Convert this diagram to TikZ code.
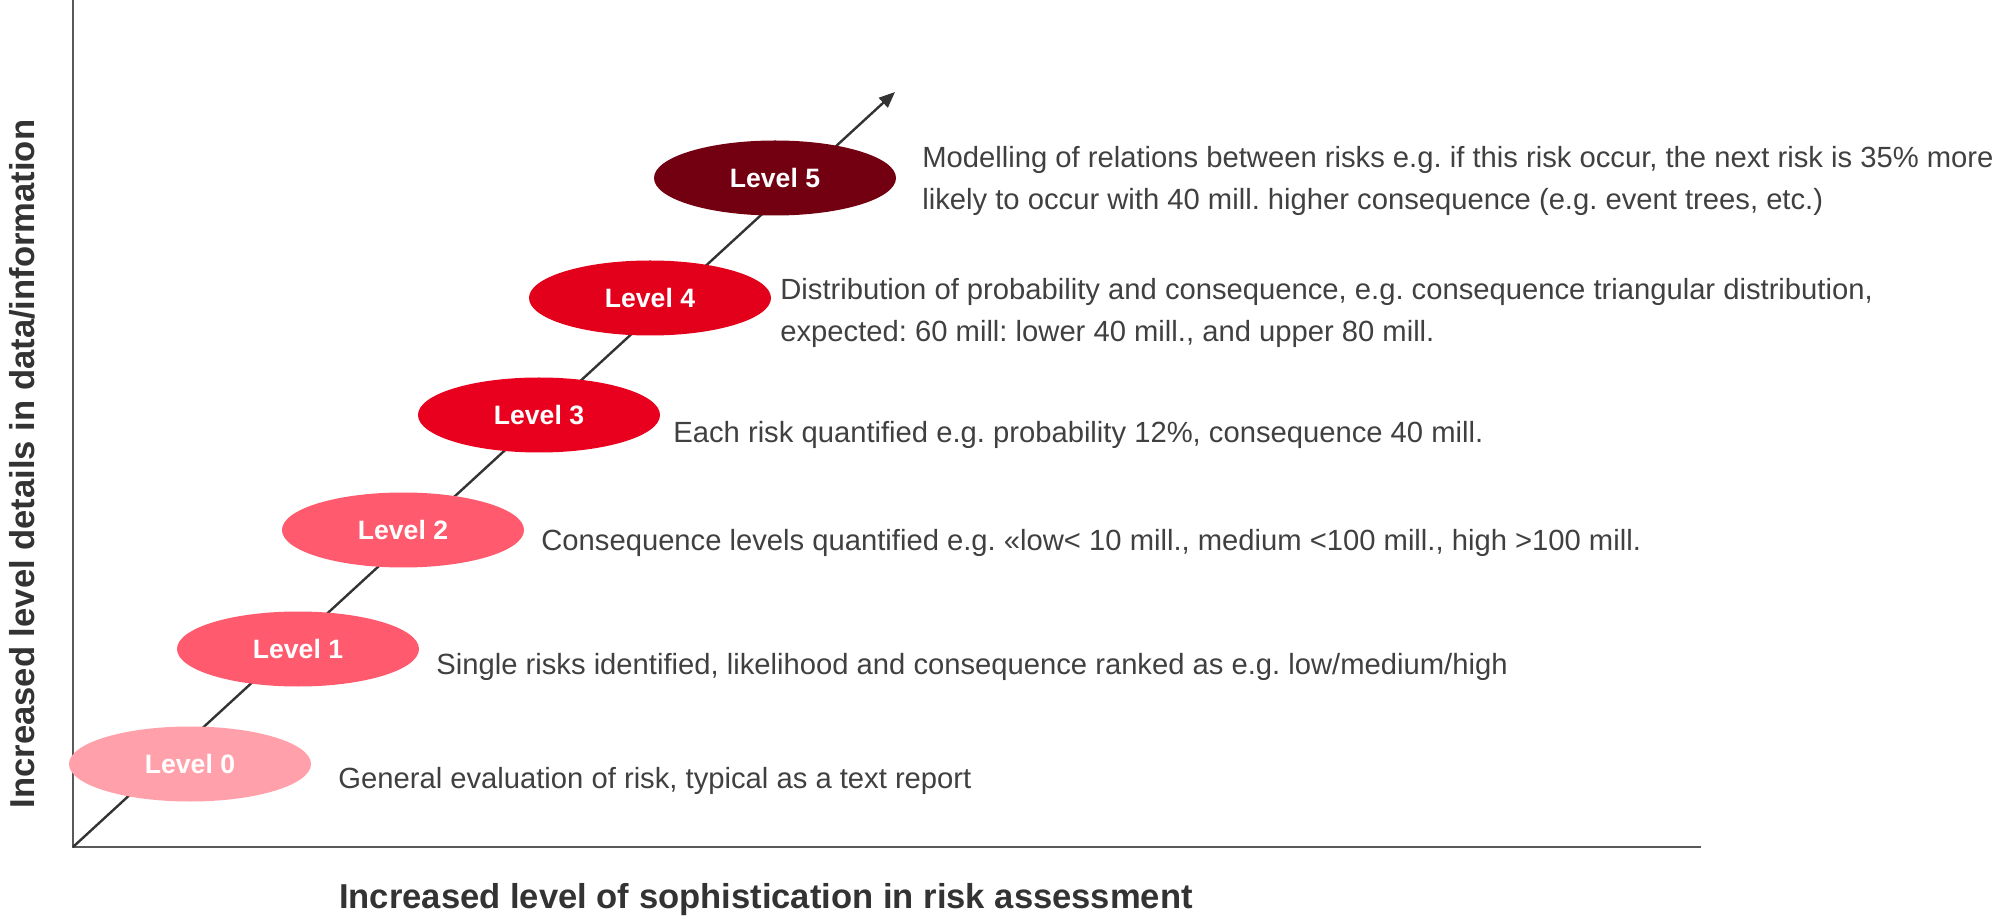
\documentclass[tikz,border=0pt]{standalone}
\usepackage{fontspec}
\setmainfont{Liberation Sans}
\usetikzlibrary{shapes.geometric,arrows.meta}
\definecolor{lv0}{HTML}{FFA0AA}
\definecolor{lv1}{HTML}{FF5A6E}
\definecolor{lv2}{HTML}{FF5A6E}
\definecolor{lv3}{HTML}{E8001E}
\definecolor{lv4}{HTML}{E2001A}
\definecolor{lv5}{HTML}{730010}
\definecolor{txt}{HTML}{404040}
\definecolor{axis}{HTML}{595959}
\definecolor{lbl}{HTML}{333333}
\tikzset{
  lvl/.style={ellipse, minimum width=121pt, minimum height=37.5pt, inner sep=0pt,
    text=white, font=\bfseries\fontsize{13.3}{16}\selectfont},
  desc/.style={anchor=west, align=left, inner sep=0pt, text=txt,
    font=\fontsize{14.6}{21}\selectfont},
  axlbl/.style={inner sep=0pt, text=lbl, font=\bfseries\fontsize{17.3}{20}\selectfont},
  axline/.style={draw=axis, line width=1pt},
  diag/.style={draw=lbl, line width=1.2pt, -{Triangle[length=8pt,width=6.5pt]}}
}
\begin{document}
\frenchspacing
\begin{tikzpicture}[x=0.5pt,y=-0.5pt]
\useasboundingbox (0,0) rectangle (1998,919);
\coordinate (top) at (73,0);
\coordinate (o) at (73,847);
\coordinate (right) at (1701,847);
\coordinate (tip) at (895,92);
\draw[axline] (top) -- (o) -- (right);
\draw[diag] (o) -- (tip);
\node[lvl, fill=lv0] (l0) at (190,764) {Level 0};
\node[lvl, fill=lv1] (l1) at (298,649) {Level 1};
\node[lvl, fill=lv2] (l2) at (403,530) {Level 2};
\node[lvl, fill=lv3] (l3) at (539,415) {Level 3};
\node[lvl, fill=lv4] (l4) at (650,298) {Level 4};
\node[lvl, fill=lv5] (l5) at (775,178) {Level 5};
\node[desc] (t0) at (338,781) {General evaluation of risk, typical as a text report};
\node[desc] (t1) at (436,667) {Single risks identified, likelihood and consequence ranked as e.g. low/medium/high};
\node[desc] (t2) at (541,543) {Consequence levels quantified e.g. «low< 10 mill., medium <100 mill., high >100 mill.};
\node[desc] (t3) at (673,435) {Each risk quantified e.g. probability 12\%, consequence 40 mill.};
\node[desc] (t4) at (780,313) {Distribution of probability and consequence, e.g. consequence triangular distribution,\\expected: 60 mill: lower 40 mill., and upper 80 mill.};
\node[desc] (t5) at (922,181) {Modelling of relations between risks e.g. if this risk occur, the next risk is 35\% more\\likely to occur with 40 mill. higher consequence (e.g. event trees, etc.)};
\node[axlbl] (xl) at (766,900) {Increased level of sophistication in risk assessment};
\node[axlbl, rotate=90] (yl) at (22,464) {Increased level details in data/information};
\end{tikzpicture}
\end{document}
